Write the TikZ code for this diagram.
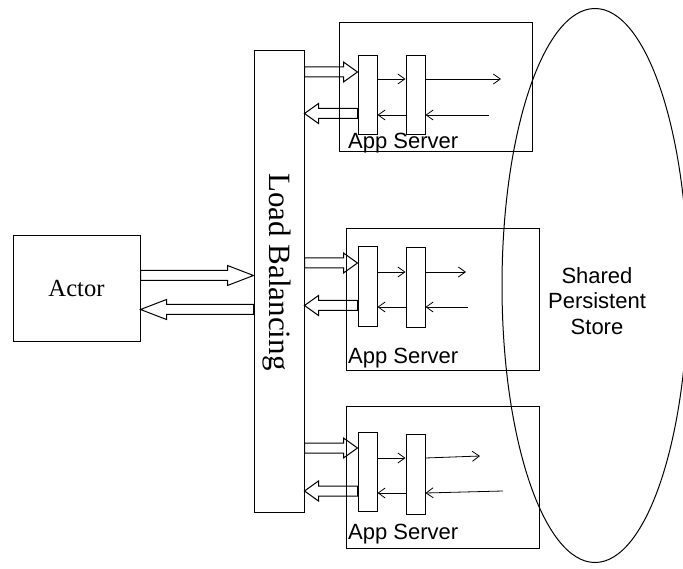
\documentclass[tikz,border=0pt]{standalone}
\usepackage{fontspec}
\setmainfont{Liberation Serif}
\setsansfont{Liberation Sans}
\usetikzlibrary{arrows.meta,calc,shapes.geometric}

% hollow block arrow between two points on the same height
\tikzset{
  box/.style={draw,line width=1pt,inner sep=0pt},
  bar/.style={box,minimum width=19pt,minimum height=79pt},
  flow/.style={line width=0.8pt,-{Straight Barb[length=7pt,width=10pt]}},
  fatarrow/.style={line width=1pt,to path={
    let \p1=(\tikztostart),\p2=(\tikztotarget),
        \n1={ifthenelse(\x2>\x1,#1,-#1)} in
    (\x1,\y1+5pt) -- (\x2-\n1,\y1+5pt) -- (\x2-\n1,\y1+10pt) -- (\x2,\y2)
    -- (\x2-\n1,\y1-10pt) -- (\x2-\n1,\y1-5pt) -- (\x1,\y1-5pt) -- cycle}},
  fatarrow/.default=14pt,
  srvlabel/.style={font=\sffamily\fontsize{22}{26}\selectfont,anchor=base west,inner sep=0pt}
}

\begin{document}
\begin{tikzpicture}[x=1pt,y=-1pt]
\useasboundingbox (0,0) rectangle (683,569);

% client and balancer
\node[box,minimum width=127pt,minimum height=106pt,font=\fontsize{24.6}{28}\selectfont] (actor) at (76.5,289) {Actor};
\node[box,minimum width=50pt,minimum height=461pt] (lb) at (279,281.5) {};
\node[rotate=-90,font=\fontsize{31}{31}\selectfont] (lbtext) at (277,272) {Load Balancing};

% store
\node[draw,ellipse,line width=1pt,minimum width=186pt,minimum height=554pt,inner sep=0pt] (store) at (595,285.5) {};
\node[align=center,font=\sffamily\fontsize{22}{25.5}\selectfont] (storetext) at (597,301) {Shared\\Persistent\\Store};

% app servers
\node[box,minimum width=193pt,minimum height=129pt] (srv1) at (435.5,87.5) {};
\node[box,minimum width=193pt,minimum height=142pt] (srv2) at (442.5,300) {};
\node[box,minimum width=193pt,minimum height=142pt] (srv3) at (442.5,477) {};
\node[srvlabel] (lab1) at (348,149) {App Server};
\node[srvlabel] (lab2) at (348,363) {App Server};
\node[srvlabel] (lab3) at (348,539) {App Server};

\node[bar] (bar1a) at (367.5,95.5) {};
\node[bar] (bar1b) at (415.5,95.5) {};
\node[bar,minimum height=80pt] (bar2a) at (367.5,287) {};
\node[bar,minimum height=80pt] (bar2b) at (415.5,288) {};
\node[bar] (bar3a) at (367.5,471.5) {};
\node[bar,minimum height=80pt] (bar3b) at (415.5,474) {};

\coordinate (out1) at (501,79);
\coordinate (in1) at (489,115);
\coordinate (out2) at (466,272);
\coordinate (in2) at (468,307);
\coordinate (out3) at (480,456);
\coordinate (in3) at (503,491);

% requests and replies
\draw[fatarrow=26pt] (actor.east |- 0,275.5) to (lb.west |- 0,275.5);
\draw[fatarrow=26pt] (lb.west |- 0,309.5) to (actor.east |- 0,309.5);

\draw[fatarrow] (lb.east |- 0,72) to (bar1a.west |- 0,72);
\draw[fatarrow] (bar1a.west |- 0,113.5) to (lb.east |- 0,113.5);
\draw[fatarrow] (lb.east |- 0,263) to (bar2a.west |- 0,263);
\draw[fatarrow] (bar2a.west |- 0,305.5) to (lb.east |- 0,305.5);
\draw[fatarrow] (lb.east |- 0,448) to (bar3a.west |- 0,448);
\draw[fatarrow] (bar3a.west |- 0,491) to (lb.east |- 0,491);

\draw[flow] (bar1a.east |- out1) -- (bar1b.west |- out1);
\draw[flow] (bar1b.east |- out1) -- (out1);
\draw[flow] (in1) -- (bar1b.east |- in1);
\draw[flow] (bar1b.west |- in1) -- (bar1a.east |- in1);

\draw[flow] (bar2a.east |- out2) -- (bar2b.west |- out2);
\draw[flow] (bar2b.east |- out2) -- (out2);
\draw[flow] (in2) -- (bar2b.east |- in2);
\draw[flow] (bar2b.west |- in2) -- (bar2a.east |- in2);

\draw[flow] (bar3a.east |- 0,458) -- (bar3b.west |- 0,458);
\draw[flow] (bar3b.east |- 0,458) -- (out3);
\draw[flow] (in3) -- (bar3b.east |- 0,493);
\draw[flow] (bar3b.west |- 0,493) -- (bar3a.east |- 0,493);
\end{tikzpicture}
\end{document}
